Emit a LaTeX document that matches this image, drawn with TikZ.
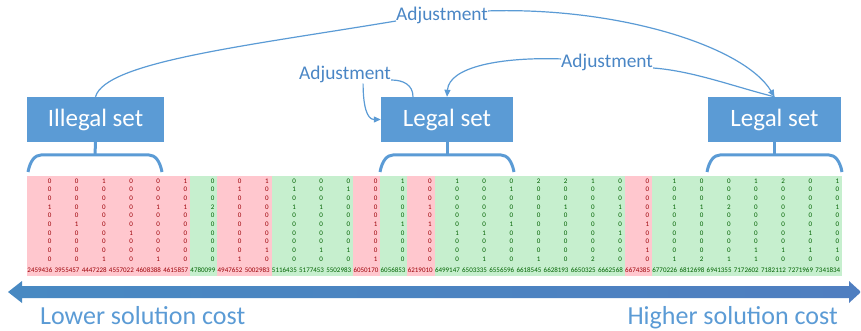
\documentclass[tikz,border=0pt]{standalone}
\usepackage{fontspec}
\setmainfont{Carlito}
\usetikzlibrary{arrows.meta}

\definecolor{setblue}{HTML}{5B9BD5}
\definecolor{labelblue}{HTML}{4A86C5}
\definecolor{axisleft}{HTML}{4889C2}
\definecolor{axisright}{HTML}{4F7EC0}
\definecolor{badfill}{HTML}{FFC7CE}
\definecolor{badink}{HTML}{9C0006}
\definecolor{goodfill}{HTML}{C6EFCE}
\definecolor{goodink}{HTML}{006100}

\tikzset{
  setbox/.style={fill=setblue, text=white, minimum height=45pt, inner sep=0pt,
    font=\fontsize{25}{25}\selectfont},
  adjlabel/.style={text=labelblue, inner sep=0pt, font=\fontsize{19.4}{20}\selectfont},
  adjline/.style={draw=setblue, line width=1.2pt},
  adjarrow/.style={adjline, -{Triangle[length=7pt,width=6pt]}},
  brace/.style={draw=setblue, line width=3pt},
  cell/.style={anchor=east, inner sep=0pt, font=\fontsize{7}{7}\selectfont},
  costlabel/.style={text=setblue, inner sep=0pt, font=\fontsize{26}{26}\selectfont},
}

\begin{document}
\begin{tikzpicture}[x=1pt,y=-1pt]
\useasboundingbox (0,0) rectangle (861,331);

% solutions sorted by cost
\foreach \cost/\kind/\vals [count=\i from 0] in {
  2459436/bad/{0,0,0,1,0,0,0,0,0,0},
  3955457/bad/{0,0,0,0,0,1,0,0,0,0},
  4447228/bad/{1,0,0,0,0,0,0,0,0,1},
  4557022/bad/{0,0,0,0,0,0,1,0,0,0},
  4608388/bad/{0,0,0,1,0,0,0,0,0,1},
  4615857/bad/{1,0,0,1,0,0,0,0,0,0},
  4780099/good/{0,0,0,2,0,0,0,0,0,0},
  4947652/bad/{0,1,0,0,0,0,0,0,0,1},
  5002983/bad/{1,0,0,0,0,0,0,0,1,0},
  5116435/good/{0,1,0,1,0,0,0,0,0,0},
  5177453/good/{0,0,0,1,0,0,0,0,1,0},
  5502983/good/{0,1,0,0,0,0,0,0,1,0},
  6050170/bad/{0,0,0,0,0,1,0,0,0,1},
  6056853/good/{1,0,0,0,0,1,0,0,0,0},
  6219010/bad/{0,0,0,1,0,1,0,0,0,0},
  6499147/good/{1,0,0,0,0,0,1,0,0,0},
  6503335/good/{0,0,0,0,0,0,1,0,0,1},
  6556596/good/{0,1,0,0,0,1,0,0,0,0},
  6618545/good/{2,0,0,0,0,0,0,0,0,1},
  6628193/good/{2,0,0,1,0,0,0,0,0,0},
  6650325/good/{1,0,0,0,0,0,0,0,0,2},
  6662568/good/{0,0,0,1,0,0,1,0,0,0},
  6674385/bad/{0,0,0,0,0,1,0,0,1,0},
  6770226/good/{1,0,0,1,0,0,0,0,0,1},
  6812698/good/{0,0,0,1,0,0,0,0,0,2},
  6941355/good/{0,0,0,2,0,0,0,0,0,1},
  7172602/good/{1,0,0,0,0,0,0,0,1,1},
  7182112/good/{2,0,0,0,0,0,0,0,1,0},
  7271969/good/{0,0,0,0,0,0,1,0,1,0},
  7341834/good/{1,0,0,1,0,0,0,0,1,0}}{
  \fill[\kind fill] (27+27.17*\i,176) rectangle +(27.17,100);
  \foreach \v [count=\j from 0] in \vals
    \node[cell, text=\kind ink] (c\i-\j) at (51.5+27.17*\i,181+8.67*\j) {\v};
  \node[cell, text=\kind ink] (cost\i) at (52.5+27.17*\i,270.5) {\cost};
}

\node[setbox, minimum width=137pt] (illegal) at (95.5,119.5) {Illegal set};
\node[setbox, minimum width=132pt] (legalmid) at (447,119.5) {Legal set};
\node[setbox, minimum width=133pt] (legalright) at (774.5,119.5) {Legal set};

\foreach \set/\lft/\rgt in {illegal/28/162, legalmid/380/514, legalright/707/842}{
  \coordinate (\set brace) at ({(\lft+\rgt)/2},155);
  \draw[brace] (\set.south) -- (\set brace);
  \draw[brace] (\lft,172) .. controls +(2,-11) and +(-6,0) .. (\lft+13,155)
    -- (\rgt-13,155) .. controls +(6,0) and +(-2,-11) .. (\rgt,172);
}

\node[adjlabel, anchor=base west] (adjtop) at (396,21) {Adjustment};
\node[adjlabel, anchor=base west] (adjmid) at (299,80) {Adjustment};
\node[adjlabel, anchor=base west] (adjright) at (561,68) {Adjustment};

\draw[adjline] (illegal.north) .. controls +(10,-35) and +(-150,25) .. (adjtop.base west);
\draw[adjarrow] ([yshift=5pt]adjtop.east) .. controls +(132,-4) and +(-30,-50) .. (legalright.north);

\draw[adjline] ([xshift=-34pt]legalmid.north) .. controls +(0,-12) and +(12,0) .. (adjmid.base east);
\draw[adjarrow] ([xshift=18pt]adjmid.south) .. controls +(0,22) and +(-14,0) .. (legalmid.west);

\draw[adjline] (legalright.north) .. controls +(-40,-10) and +(40,3) .. (adjright.base east);
\draw[adjarrow] ([yshift=4pt]adjright.west) .. controls +(-60,-2) and +(2,-30) .. (legalmid.north);

% cost axis
\shade[left color=axisleft, right color=axisright] (8,292) -- (22,281) -- (22,286)
  -- (849,286) -- (849,281) -- (861,292) -- (849,303) -- (849,298)
  -- (22,298) -- (22,303) -- cycle;
\node[costlabel, anchor=base west] (lower) at (40,324) {Lower solution cost};
\node[costlabel, anchor=base east] (higher) at (838,324) {Higher solution cost};
\end{tikzpicture}
\end{document}
